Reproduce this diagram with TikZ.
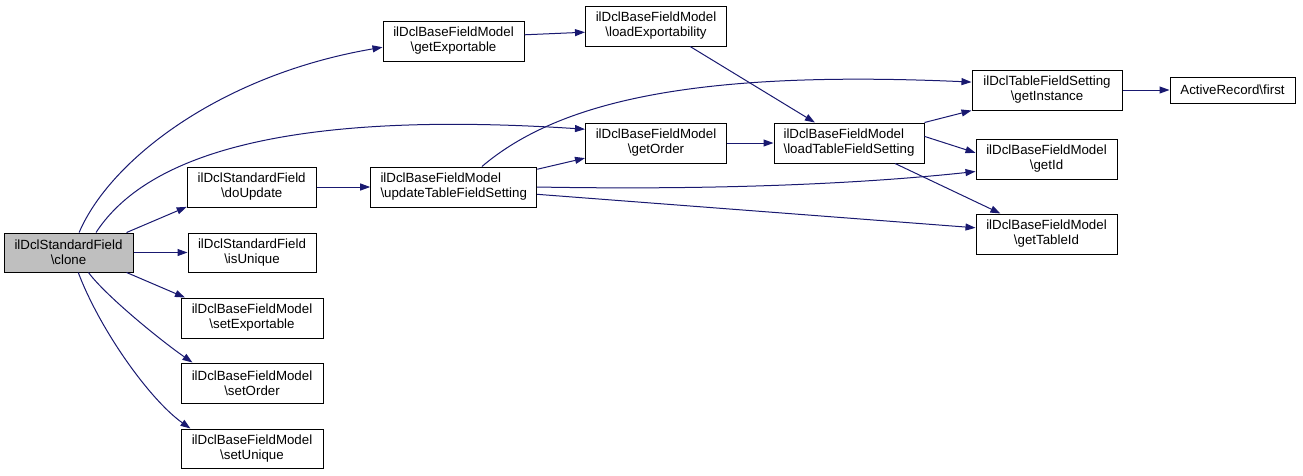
\documentclass[tikz,border=0pt]{standalone}
\usepackage{fontspec}
\setmainfont{Liberation Sans}
\usepackage{xcolor}
\usetikzlibrary{arrows.meta}
\definecolor{edgeblue}{HTML}{191970}
\definecolor{grey75}{HTML}{BFBFBF}

\begin{document}
\begin{tikzpicture}[x=1pt, y=-1pt,
  fn/.style={draw=black, line width=1pt, inner sep=0pt, minimum height=40pt, align=center, font=\fontsize{13.3}{15}\selectfont},
  call/.style={draw=edgeblue, line width=1pt, -{Triangle[length=10pt,width=7pt]}, edgeblue}]
\useasboundingbox (0,0) rectangle (1303,475);

\node[fn, fill=grey75, minimum width=129pt, minimum height=39pt] (cl) at (68.5,252.5) {ilDclStandardField\\\textbackslash{}clone};
\node[fn, minimum width=129pt] (du) at (251.7,187) {ilDclStandardField\\\textbackslash{}doUpdate};
\node[fn, minimum width=128pt, minimum height=39pt] (iu) at (252,252.5) {ilDclStandardField\\\textbackslash{}isUnique};
\node[fn, minimum width=142pt] (se) at (252,318) {ilDclBaseFieldModel\\\textbackslash{}setExportable};
\node[fn, minimum width=142pt] (so) at (252,383) {ilDclBaseFieldModel\\\textbackslash{}setOrder};
\node[fn, minimum width=142pt, minimum height=39pt] (su) at (252,448.5) {ilDclBaseFieldModel\\\textbackslash{}setUnique};
\node[fn, minimum width=141pt] (ge) at (453.5,41) {ilDclBaseFieldModel\\\textbackslash{}getExportable};
\node[fn, minimum width=166pt, align=left] (ut) at (453.7,187) {ilDclBaseFieldModel\\\textbackslash{}updateTableFieldSetting};
\node[fn, minimum width=141pt] (le) at (656,26) {ilDclBaseFieldModel\\\textbackslash{}loadExportability};
\node[fn, minimum width=141pt] (go) at (656,143) {ilDclBaseFieldModel\\\textbackslash{}getOrder};
\node[fn, minimum width=150pt, align=left] (lt) at (849,143) {ilDclBaseFieldModel\\\textbackslash{}loadTableFieldSetting};
\node[fn, minimum width=150pt] (gi) at (1047,90) {ilDclTableFieldSetting\\\textbackslash{}getInstance};
\node[fn, minimum width=141pt] (gid) at (1046.5,159) {ilDclBaseFieldModel\\\textbackslash{}getId};
\node[fn, minimum width=141pt] (gt) at (1046.5,234) {ilDclBaseFieldModel\\\textbackslash{}getTableId};
\node[fn, minimum width=125pt, minimum height=26pt] (fi) at (1232.5,90) {ActiveRecord\textbackslash{}first};

\draw[call] (cl.62) .. controls (110,160) and (220,75) .. (ge.185);
\draw[call] (cl.36) .. controls (140,165) and (260,108) .. (go.169);
\draw[call] (cl.19) -- (du.197);
\draw[call] (cl.east) -- (iu.west);
\draw[call] (cl.-19) -- (se.163);
\draw[call] (cl.-45) .. controls (105,295) and (160,340) .. (so.161);
\draw[call] (cl.-64) .. controls (100,330) and (150,400) .. (su.162);
\draw[call] (du.east) -- (ut.west);
\draw[call] (ut.12) -- (go.192);
\draw[call] (ut.36) .. controls (560,100) and (700,70) .. (gi.174);
\draw[call] (ut.east) .. controls (700,190) and (850,185) .. (gid.190);
\draw[call] (ut.-5) -- (gt.175);
\draw[call] (ge.5) -- (le.185);
\draw[call] (le.-31) -- (lt.149);
\draw[call] (go.east) -- (lt.west);
\draw[call] (lt.north east) -- (gi.south west);
\draw[call] (lt.5) -- (gid.175);
\draw[call] (lt.-24) -- (gt.156);
\draw[call] (gi.east) -- (fi.west);
\end{tikzpicture}
\end{document}
